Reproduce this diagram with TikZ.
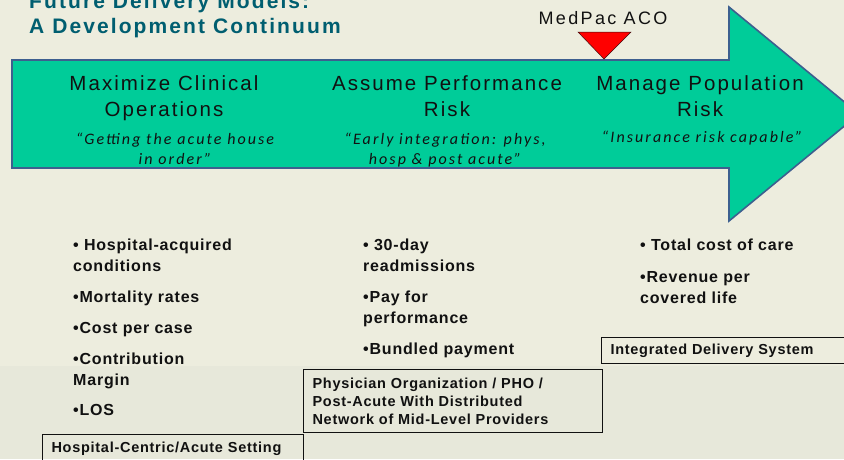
\documentclass[tikz,border=0pt]{standalone}
\usepackage{fontspec}
\setmainfont{Liberation Sans}
\newfontfamily\headfont[LetterSpace=10]{Liberation Sans}
\newfontfamily\acofont[LetterSpace=13]{Liberation Sans}
\newfontfamily\itemfont[LetterSpace=5]{Liberation Sans}
\newfontfamily\quotefont[LetterSpace=13]{Carlito}
\usetikzlibrary{positioning}
\definecolor{bg}{HTML}{EDEDDE}
\definecolor{band}{HTML}{E7E8DA}
\definecolor{arrowfill}{HTML}{00CC99}
\definecolor{arrowline}{HTML}{3D5F8F}
\definecolor{titleteal}{HTML}{005E70}
\definecolor{marker}{HTML}{FF0000}
\definecolor{ink}{HTML}{111111}
\tikzset{
  arrowbody/.style={fill=arrowfill, draw=arrowline, line width=1.6pt, line join=miter},
  flag/.style={fill=marker, draw=ink!80!marker, line width=0.5pt, line join=miter},
  title/.style={text=titleteal, font=\headfont\bfseries\fontsize{21}{24}\selectfont, inner sep=0pt, anchor=base west},
  head/.style={text=ink, font=\headfont\fontsize{20.5}{26}\selectfont, align=center, inner sep=0pt, anchor=base},
  quote/.style={text=ink, font=\quotefont\itshape\fontsize{16}{20}\selectfont, align=center, inner sep=0pt, anchor=base},
  item/.style={text=ink, font=\itemfont\bfseries\fontsize{16}{21}\selectfont, align=left, inner sep=0pt, anchor=base west},
  stage/.style={draw=ink, line width=1.1pt, anchor=north west, inner xsep=9pt, inner ysep=0pt,
    align=left, text=ink, font=\itemfont\bfseries\fontsize{14.5}{18}\selectfont},
}
\begin{document}
\begin{tikzpicture}[x=1pt, y=-1pt]
  \useasboundingbox (0,0) rectangle (844,459);
  \fill[bg] (0,0) rectangle (844,459);
  \fill[band] (0,366) rectangle (844,459);

  % title
  \node[title] (title1) at (29,8) {Future Delivery Models:};
  \node[title] (title2) at (29,33) {A Development Continuum};

  % the continuum arrow
  \begin{scope}
    \clip (0,0) rectangle (844,459);
    \draw[arrowbody] (12,60) -- (729,60) -- (729,7) -- (859,114)
      -- (729,221) -- (729,168) -- (12,168) -- cycle;
  \end{scope}

  % MedPac ACO marker
  \draw[flag] (578,32) -- (631,32) -- (604,59) -- cycle;
  \node[text=ink, font=\acofont\fontsize{18}{20}\selectfont, inner sep=0pt, anchor=base] (aco) at (603,24) {MedPac ACO};

  % stages on the arrow (base = last line)
  \node[head] (clinical) at (164,116) {Maximize Clinical\\Operations};
  \node[quote] (clinicalq) at (175,164) {\textquotedblleft Getting the acute house\\in order\textquotedblright};
  \node[head] (perform) at (447,116) {Assume Performance\\Risk};
  \node[quote] (performq) at (445,164) {\textquotedblleft Early integration: phys,\\hosp \& post acute\textquotedblright};
  \node[head] (popul) at (700,116) {Manage Population\\Risk};
  \node[quote] (populq) at (702,142) {\textquotedblleft Insurance risk capable\textquotedblright};

  % measures
  \node[item] (hac) at (73,271) {\textbullet\ Hospital-acquired\\conditions};
  \node[item] (mort) at (73,302) {\textbullet Mortality rates};
  \node[item] (cost) at (73,333) {\textbullet Cost per case};
  \node[item] (margin) at (73,385) {\textbullet Contribution\\Margin};
  \node[item] (los) at (73,415) {\textbullet LOS};

  \node[item] (readm) at (363,271) {\textbullet\ 30-day\\readmissions};
  \node[item] (p4p) at (363,323) {\textbullet Pay for\\performance};
  \node[item] (bundle) at (363,354) {\textbullet Bundled payment};

  \node[item] (tcoc) at (640,250) {\textbullet\ Total cost of care};
  \node[item] (rev) at (640,303) {\textbullet Revenue per\\covered life};

  % organisation boxes
  \node[stage, minimum width=260pt, minimum height=26pt, text width=242pt] (ids) at (601,337) {Integrated Delivery System};
  \node[stage, minimum width=299pt, minimum height=63pt, text width=281pt] (pho) at (303,369)
    {Physician Organization / PHO /\\Post-Acute With Distributed\\Network of Mid-Level Providers};
  \node[stage, minimum width=261pt, minimum height=29pt, text width=243pt] (hosp) at (42,434) {Hospital-Centric/Acute Setting};
\end{tikzpicture}
\end{document}
